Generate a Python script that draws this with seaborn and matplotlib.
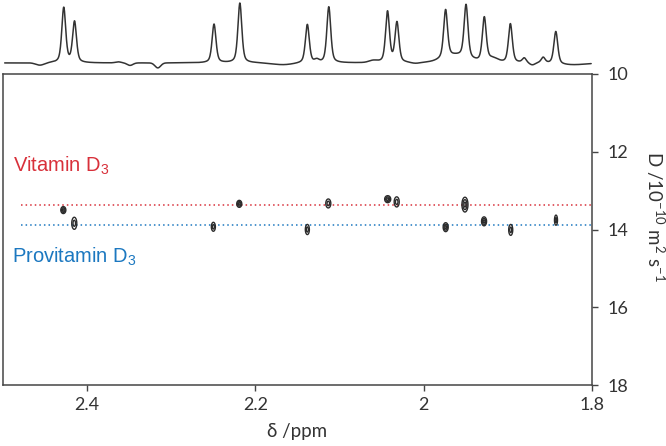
import numpy as np
import pandas as pd
import matplotlib
matplotlib.use("Agg")
import matplotlib.pyplot as plt
import seaborn as sns

# ---------------- data ----------------
# 1D projection spectrum: peak centres (ppm), heights (a.u.), linewidth (ppm)
peak_ppm = [2.4278, 2.4150, 2.2492, 2.2185, 2.1383, 2.1128, 2.0430, 2.0318,
            1.9740, 1.9497, 1.9280, 1.8970, 1.8805, 1.8580, 1.8430]
peak_height = [55.0, 41.0, 38.7, 59.8, 38.4, 56.0, 51.0, 40.0,
               48.0, 53.0, 44.0, 39.0, 4.5, 5.5, 32.5]
peak_fwhm = 0.0055
# broad baseline features of the projection (ppm, height, width)
base_ppm = [2.456, 2.363, 2.349, 2.316, 2.167, 2.127, 2.060, 2.010, 1.962, 1.918, 1.871, 1.825]
base_height = [-2.5, 1.0, -2.5, -5.0, -2.0, 2.5, 2.0, -1.0, 7.0, 4.0, -2.5, -2.0]
base_width = [0.012, 0.008, 0.008, 0.008, 0.030, 0.006, 0.012, 0.012, 0.035, 0.015, 0.008, 0.040]

# DOSY cross peaks: chemical shift (ppm), diffusion coefficient (1e-10 m2/s)
spot_ppm = [2.4283, 2.4153, 2.2500, 2.2192, 2.1383, 2.1134, 2.0428, 2.0321,
            1.9739, 1.9510, 1.9283, 1.8966, 1.8428]
spot_D = [13.50, 13.84, 13.93, 13.34, 14.00, 13.33, 13.22, 13.29,
          13.94, 13.36, 13.79, 14.01, 13.76]
spot_dppm = [0.0030, 0.0030, 0.0024, 0.0030, 0.0024, 0.0030, 0.0036, 0.0030,
             0.0030, 0.0036, 0.0030, 0.0024, 0.0018]
spot_dD = [0.09, 0.155, 0.115, 0.09, 0.13, 0.115, 0.09, 0.13,
           0.115, 0.19, 0.115, 0.14, 0.13]
spot_rings = [3, 2, 2, 3, 2, 2, 3, 2, 3, 3, 3, 2, 2]

vitamin_D = 13.36
provitamin_D = 13.88
line_start_ppm = 2.479

x_ticks = [2.4, 2.2, 2.0, 1.8]
x_ticklabels = ["2.4", "2.2", "2", "1.8"]
y_ticks = [10, 12, 14, 16, 18]
y_ticklabels = ["10", "12", "14", "16", "18"]

# ---------------- style ----------------
sns.set_theme(style="white")
plt.rcParams["font.family"] = ["Lato", "DejaVu Sans"]
plt.rcParams["mathtext.default"] = "regular"

SPINE = "#454545"
RED = "#d8303a"
BLUE = "#1c78c0"

fig = plt.figure(figsize=(6.66, 4.46), dpi=100)
ax = fig.add_axes([3 / 666, 1 - 385 / 446, 589 / 666, 311 / 446])
axs = fig.add_axes([3 / 666, 1 - 72 / 446, 589 / 666, 72 / 446])

# ---------------- projection spectrum ----------------
def pvoigt(x, c, h, w, eta=0.5):
    g = np.exp(-4 * np.log(2) * ((x - c) / w) ** 2)
    l = 1.0 / (1.0 + 4 * ((x - c) / w) ** 2)
    return h * (eta * l + (1 - eta) * g)

xs = np.linspace(2.498, 1.801, 2600)
ys = np.zeros_like(xs)
for c, h in zip(peak_ppm, peak_height):
    ys += pvoigt(xs, c, h, peak_fwhm)
for c, h, w in zip(base_ppm, base_height, base_width):
    ys += pvoigt(xs, c, h, w, eta=0.0)
spec = pd.DataFrame({"ppm": xs, "I": ys})
sns.lineplot(data=spec, x="ppm", y="I", ax=axs, color="#333333", lw=1.1,
             sort=False, estimator=None)
axs.set_xlim(2.5, 1.8)
axs.set_ylim(-9, 63)
axs.axis("off")

# ---------------- guide lines ----------------
guides = pd.DataFrame({
    "ppm": [line_start_ppm, 1.8, line_start_ppm, 1.8],
    "D": [vitamin_D, vitamin_D, provitamin_D, provitamin_D],
    "sp": ["vit", "vit", "pro", "pro"],
})
for sp, col in (("vit", RED), ("pro", BLUE)):
    sub = guides[guides.sp == sp]
    sns.lineplot(data=sub, x="ppm", y="D", ax=ax, color=col, lw=1.1,
                 linestyle=(0, (1, 2)), sort=False, estimator=None)

# ---------------- DOSY cross peaks ----------------
for x0, y0, dx, dy, n in zip(spot_ppm, spot_D, spot_dppm, spot_dD, spot_rings):
    gx = np.linspace(x0 - 2 * dx, x0 + 2 * dx, 80)
    gy = np.linspace(y0 - 2 * dy, y0 + 2 * dy, 80)
    X, Y = np.meshgrid(gx, gy)
    Z = np.exp(-((X - x0) / dx) ** 2 - ((Y - y0) / dy) ** 2)
    levels = sorted(np.exp(-(np.arange(n, 0, -1) / n) ** 2))
    ax.contour(X, Y, Z, levels=levels, colors="#2b2b2b", linewidths=1.0)

# ---------------- axes cosmetics ----------------
ax.set_xlim(2.5, 1.8)
ax.set_ylim(18, 10)
ax.set_xticks(x_ticks)
ax.set_xticklabels(x_ticklabels)
ax.set_yticks(y_ticks)
ax.set_yticklabels(y_ticklabels)
ax.yaxis.tick_right()
ax.tick_params(axis="x", bottom=True, top=False, direction="out", length=4,
               width=1.0, color=SPINE, pad=5, labelsize=13, labelcolor="#333333")
ax.tick_params(axis="y", right=True, left=False, direction="out", length=4,
               width=1.0, color=SPINE, pad=7, labelsize=13, labelcolor="#333333")
for s in ax.spines.values():
    s.set_color(SPINE)
    s.set_linewidth(1.1)

ax.set_xlabel(r"δ /ppm", fontsize=13.5, color="#333333")
ax.xaxis.set_label_coords(0.5, -0.151)
ax.xaxis.label.set_va("center")
ax.yaxis.set_label_position("right")
ax.set_ylabel(r"D /10$^{-10}$ m$^{2}$ s$^{-1}$", fontsize=13.5, color="#333333",
              rotation=270)
ax.yaxis.set_label_coords(1.107, 0.543)
ax.yaxis.label.set_va("center")
ax.yaxis.label.set_ha("center")

ax.text(2.488, 12.52, r"Vitamin D$_{3}$", color=RED, fontsize=14.5,
        family=["Liberation Sans", "DejaVu Sans"], va="baseline", ha="left")
ax.text(2.489, 14.86, r"Provitamin D$_{3}$", color=BLUE, fontsize=14.5,
        family=["Liberation Sans", "DejaVu Sans"], va="baseline", ha="left")

fig.savefig("out.png", dpi=100)
